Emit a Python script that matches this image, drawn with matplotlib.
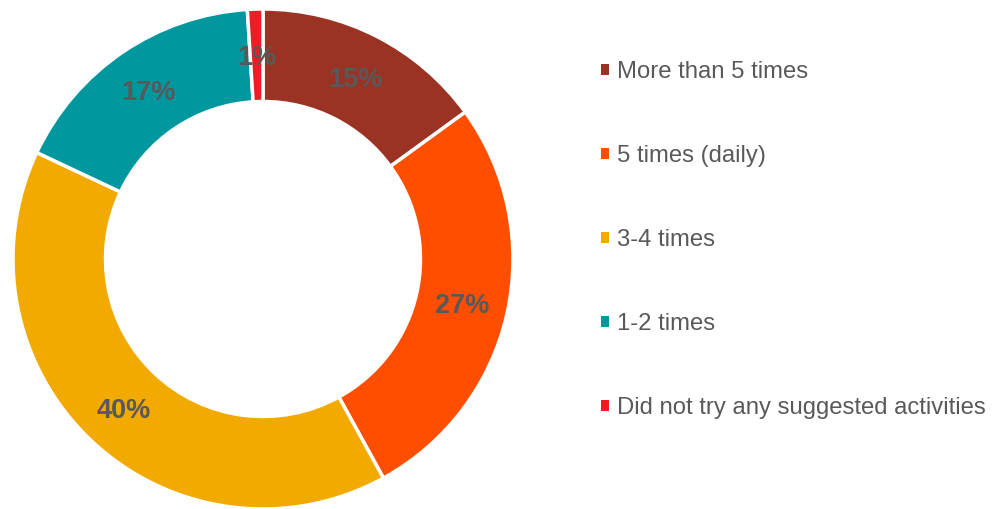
import matplotlib
matplotlib.use("Agg")
import matplotlib.pyplot as plt

categories = ["More than 5 times", "5 times (daily)", "3-4 times", "1-2 times",
              "Did not try any suggested activities"]
values = [15, 27, 40, 17, 1]
colors = ["#9A3324", "#FF4E00", "#F2A900", "#00979F", "#EE1C25"]

plt.rcParams['font.family'] = ['Liberation Sans', 'DejaVu Sans']

fig = plt.figure(figsize=(9.92, 5.09), dpi=100)
W, H = 992, 509
cx, cy, r = 263, 259, 250
ax = fig.add_axes([(cx - r) / W, (H - cy - r) / H, 2 * r / W, 2 * r / H])

wedges, texts, autotexts = ax.pie(
    values, colors=colors, startangle=90, counterclock=False, radius=1,
    autopct=lambda p: f"{p:.0f}%", pctdistance=0.815,
    wedgeprops=dict(width=0.37, edgecolor="white", linewidth=2.5),
    textprops=dict(color="#595959", fontsize=19.5, fontweight="bold"))
for t in autotexts:
    t.set_verticalalignment("center_baseline")
ax.set_xlim(-1, 1)
ax.set_ylim(-1, 1)
ax.set_aspect("equal")
ax.axis("off")

leg = fig.legend(wedges, categories, loc="upper left",
                 bbox_to_anchor=(601 / W, 1 - 61 / H), frameon=False,
                 fontsize=17.2, labelcolor="#595959",
                 handlelength=0.33, handleheight=0.33, handletextpad=0.35,
                 labelspacing=2.6, borderpad=0, borderaxespad=0)
for h in leg.legend_handles:
    h.set_edgecolor("none")

fig.savefig("out.png", dpi=100)
